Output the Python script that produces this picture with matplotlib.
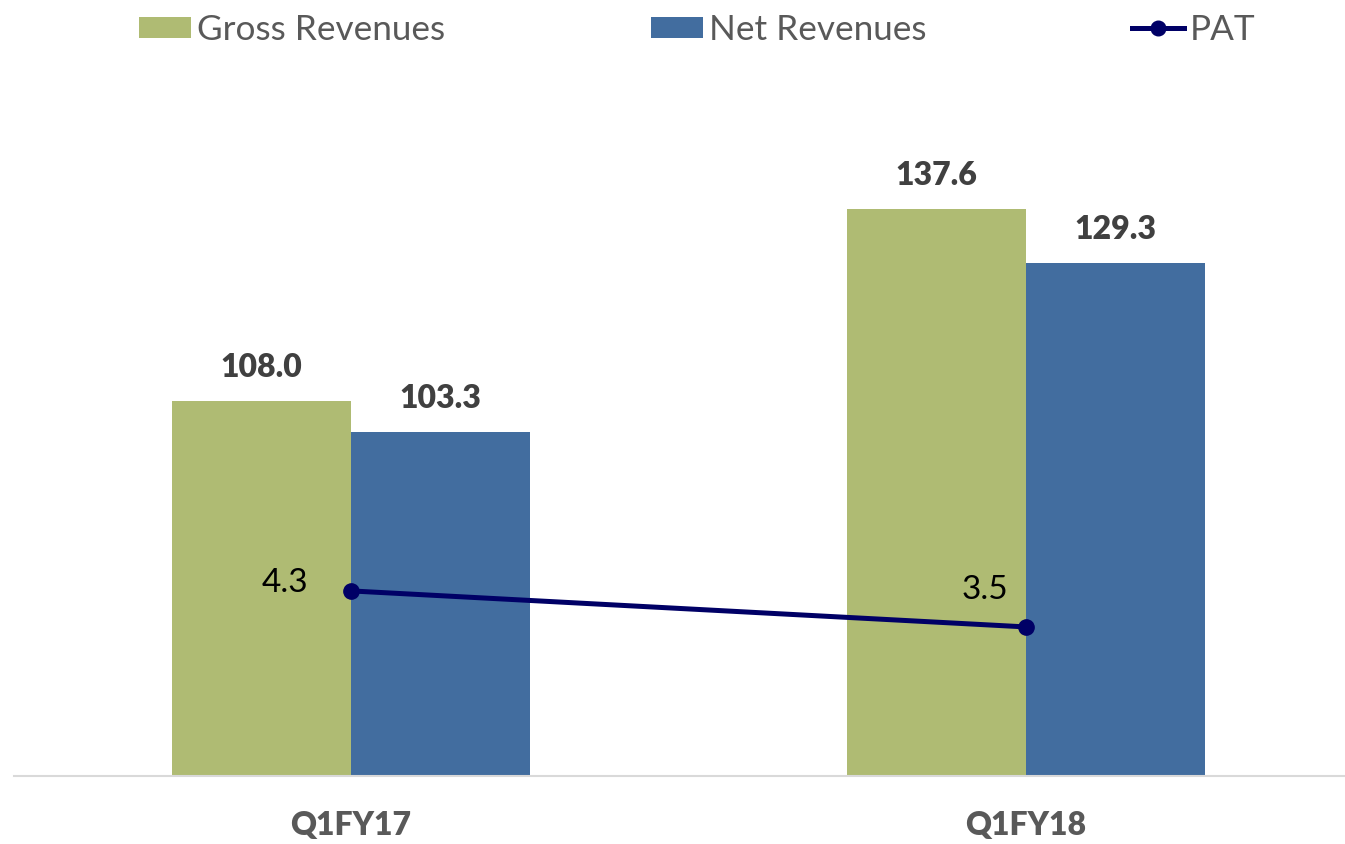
import matplotlib
matplotlib.use("Agg")
import matplotlib.pyplot as plt
from matplotlib.lines import Line2D
from matplotlib.patches import Patch

categories = ["Q1FY17", "Q1FY18"]
gross = [108.0, 137.6]
net = [103.3, 129.3]
pat = [4.3, 3.5]

GREEN = "#AFBB73"
BLUE = "#426D9F"
NAVY = "#000066"

plt.rcParams['font.family'] = ['Lato', 'DejaVu Sans']

W, H = 1345, 844
fig = plt.figure(figsize=(W / 100, H / 100), dpi=100)
ax_left = 13.5 / W
ax_bottom = (H - 776) / H
ax_top = (H - 64) / H
ax = fig.add_axes([ax_left, ax_bottom, 1 - ax_left, ax_top - ax_bottom])
ax.set_xlim(-0.5, (W - 13.5) / 675 - 0.5)
ax.set_ylim(50.2, 160)

x = list(range(len(categories)))
bw = 0.2652
gx = [i - bw / 2 for i in x]
nx = [i + bw / 2 for i in x]
ax.bar(gx, gross, width=bw, color=GREEN, zorder=2)
ax.bar(nx, net, width=bw, color=BLUE, zorder=2)

for xi, v in zip(gx, gross):
    ax.annotate(f"{v:.1f}", (xi, v), xytext=(0, 24), textcoords="offset points",
                ha="center", va="center", fontsize=23, fontweight="heavy", color="#404040")
for xi, v in zip(nx, net):
    ax.annotate(f"{v:.1f}", (xi, v), xytext=(0, 24), textcoords="offset points",
                ha="center", va="center", fontsize=23, fontweight="heavy", color="#404040")

for s in ["top", "right", "left"]:
    ax.spines[s].set_visible(False)
ax.spines["bottom"].set_color("#D9D9D9")
ax.spines["bottom"].set_linewidth(1.5)
ax.set_yticks([])
ax.set_xticks(x)
ax.set_xticklabels(categories, fontsize=23, fontweight="heavy", color="#595959")
ax.tick_params(axis="x", length=0, pad=25)

ax2 = ax.twinx()
ax2.set_ylim(0.19, 16.0)
ax2.set_yticks([])
for s in ax2.spines.values():
    s.set_visible(False)
ax2.plot(x, pat, color=NAVY, lw=3.6, marker="o", markersize=11, zorder=3)
offsets = [(-47.5, 5.8), (-29.5, 26.6)]
for xi, v, off in zip(x, pat, offsets):
    ax2.annotate(f"{v:.1f}", (xi, v), xytext=off, textcoords="offset points",
                 ha="center", va="center", fontsize=24, color="black")

handles = [Patch(facecolor=GREEN), Patch(facecolor=BLUE),
           Line2D([0], [0], color=NAVY, lw=3.6, marker="o", markersize=10.5)]
labels = ["Gross Revenues", "Net Revenues", "PAT"]
leg = fig.legend(handles, labels, loc="center left", bbox_to_anchor=(139 / W, 1 - 30 / H),
                 ncol=3, frameon=False, fontsize=25.3, handlelength=1.48, handleheight=0.57,
                 handletextpad=0.17, columnspacing=5.85, borderpad=0, borderaxespad=0)
for t in leg.get_texts():
    t.set_color("#595959")

fig.savefig("out.png", dpi=100)
